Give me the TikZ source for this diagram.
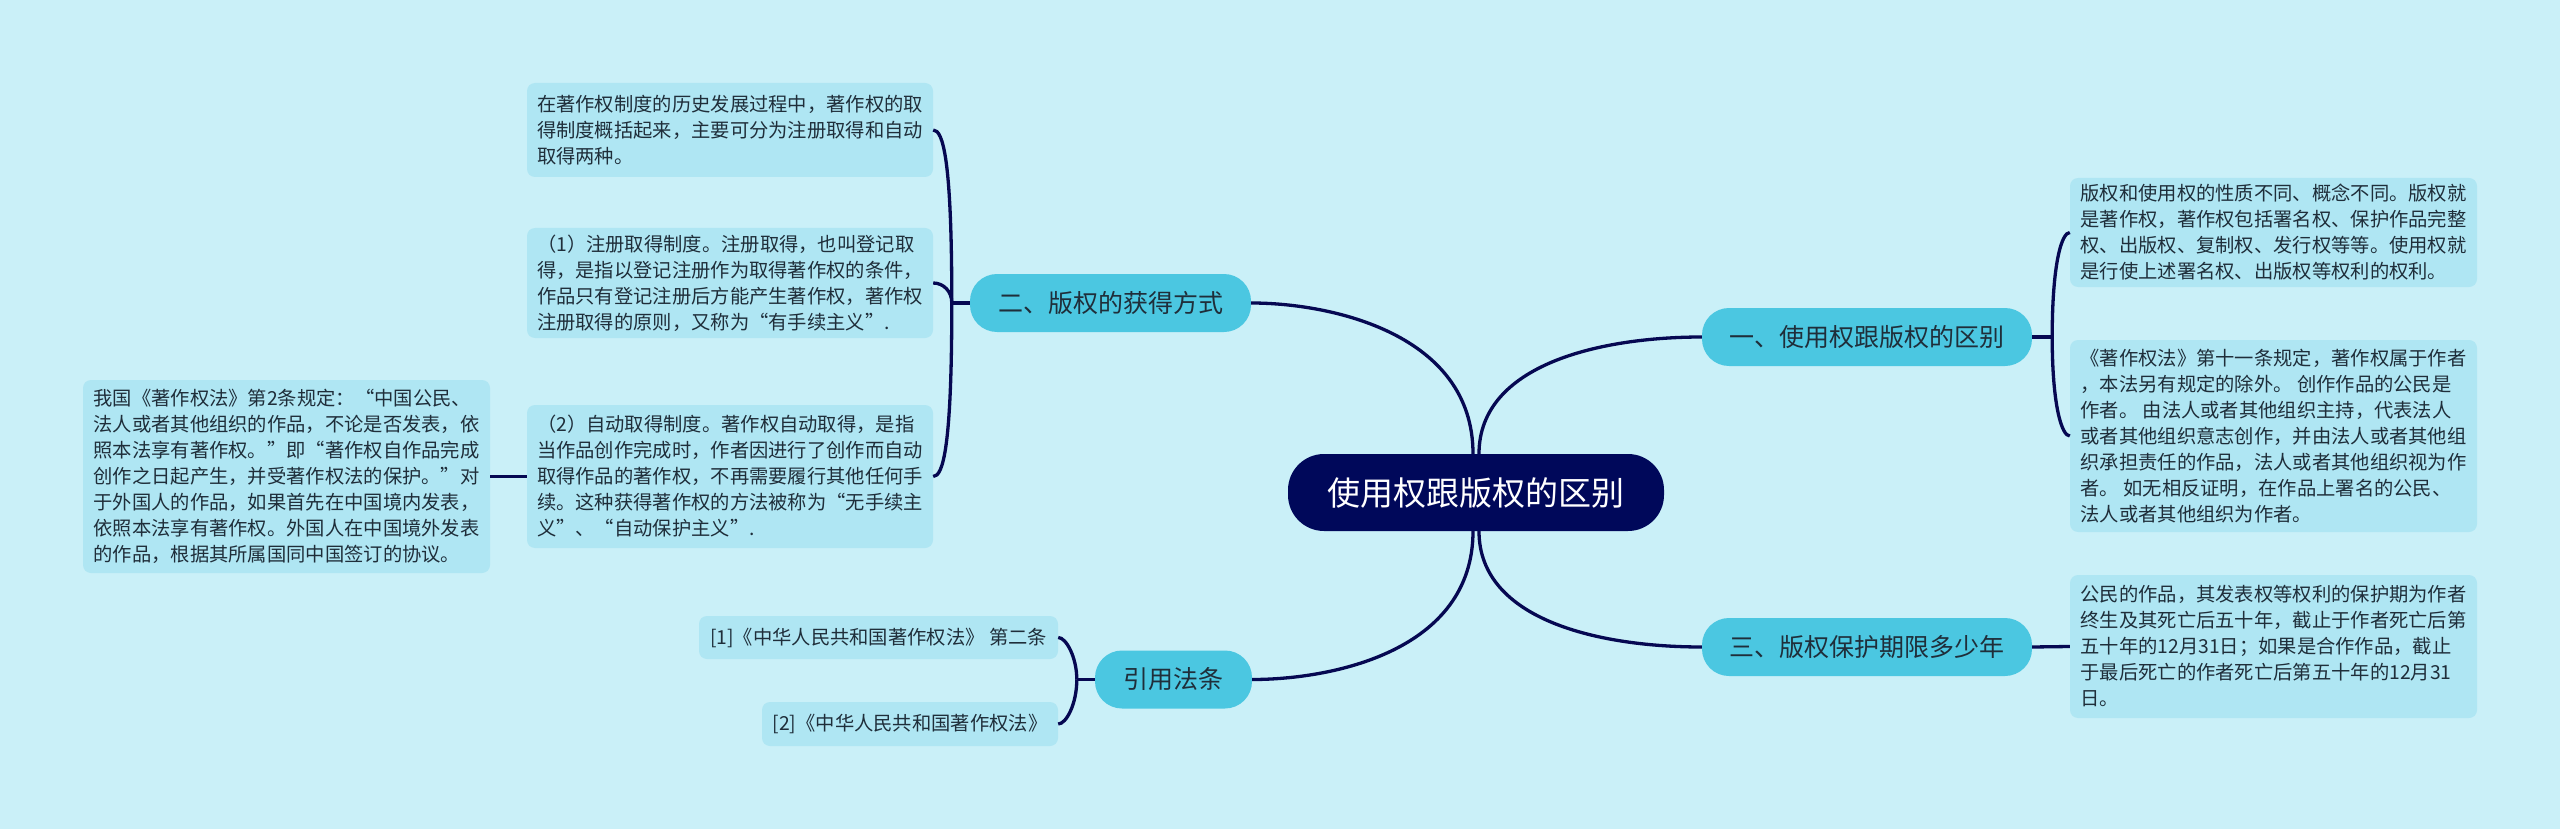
\documentclass[tikz,border=0pt]{standalone}
\usepackage{fontspec}
\setmainfont{Noto Sans CJK SC}
\usetikzlibrary{calc}
\definecolor{bg}{HTML}{CAF0F8}
\definecolor{leaffill}{HTML}{AFE6F3}
\definecolor{branchfill}{HTML}{4BC7E1}
\definecolor{centerfill}{HTML}{00085A}
\definecolor{linecol}{HTML}{060852}
\definecolor{txt}{HTML}{1F2E3A}
\begin{document}
\begin{tikzpicture}[x=1pt,y=-1pt,
 leafbox/.style={fill=leaffill, rounded corners=8pt, inner sep=0pt, align=left, text=txt, font=\fontsize{19.3}{26}\selectfont},
 branchbox/.style={fill=branchfill, rounded corners=27pt, inner sep=0pt, minimum height=58pt, text=txt, font=\fontsize{25}{30}\selectfont},
 centerbox/.style={fill=centerfill, rounded corners=36pt, inner sep=0pt, minimum width=376pt, minimum height=77pt, text=white, font=\fontsize{33}{40}\selectfont},
 conn/.style={draw=linecol, line width=3.3pt}]
\fill[bg] (0,0) rectangle (2560,829);
\useasboundingbox (0,0) rectangle (2560,829);

% centre
\node[centerbox] (c) at (1476,492.5) {使用权跟版权的区别};

% branches
\node[branchbox, minimum width=330pt] (b1) at (1867,337) {一、使用权跟版权的区别};
\node[branchbox, minimum width=281pt] (b2) at (1110.5,303) {二、版权的获得方式};
\node[branchbox, minimum width=330pt] (b3) at (1867,647) {三、版权保护期限多少年};
\node[branchbox, minimum width=157pt] (b4) at (1173.5,679.5) {引用法条};

% leaves of branch 2
\node[leafbox, minimum width=406pt, minimum height=94pt] (A) at (730,130) {在著作权制度的历史发展过程中，著作权的取\\得制度概括起来，主要可分为注册取得和自动\\取得两种。};
\node[leafbox, minimum width=406pt, minimum height=110pt] (B) at (730,283) {（1）注册取得制度。注册取得，也叫登记取\\得，是指以登记注册作为取得著作权的条件，\\作品只有登记注册后方能产生著作权，著作权\\注册取得的原则，又称为“有手续主义”.};
\node[leafbox, minimum width=406pt, minimum height=143pt] (C) at (730,476.5) {（2）自动取得制度。著作权自动取得，是指\\当作品创作完成时，作者因进行了创作而自动\\取得作品的著作权，不再需要履行其他任何手\\续。这种获得著作权的方法被称为“无手续主\\义”、“自动保护主义”.};
\node[leafbox, minimum width=407pt, minimum height=193pt] (D) at (286.5,476.5) {我国《著作权法》第2条规定：“中国公民、\\法人或者其他组织的作品，不论是否发表，依\\照本法享有著作权。”即“著作权自作品完成\\创作之日起产生，并受著作权法的保护。”对\\于外国人的作品，如果首先在中国境内发表，\\依照本法享有著作权。外国人在中国境外发表\\的作品，根据其所属国同中国签订的协议。};

% leaves of branch 1
\node[leafbox, minimum width=407pt, minimum height=109pt] (E) at (2273.5,232.5) {版权和使用权的性质不同、概念不同。版权就\\是著作权，著作权包括署名权、保护作品完整\\权、出版权、复制权、发行权等等。使用权就\\是行使上述署名权、出版权等权利的权利。};
\node[leafbox, minimum width=407pt, minimum height=192pt] (F) at (2273.5,436) {《著作权法》第十一条规定，著作权属于作者\\，本法另有规定的除外。 创作作品的公民是\\作者。 由法人或者其他组织主持，代表法人\\或者其他组织意志创作，并由法人或者其他组\\织承担责任的作品，法人或者其他组织视为作\\者。 如无相反证明，在作品上署名的公民、\\法人或者其他组织为作者。};

% leaf of branch 3
\node[leafbox, minimum width=407pt, minimum height=143pt] (G) at (2273.5,646.5) {公民的作品，其发表权等权利的保护期为作者\\终生及其死亡后五十年，截止于作者死亡后第\\五十年的12月31日；如果是合作作品，截止\\于最后死亡的作者死亡后第五十年的12月31\\日。};

% leaves of branch 4
\node[leafbox, minimum width=359pt, minimum height=43pt] (L1) at (878.5,637.5) {[1]《中华人民共和国著作权法》 第二条};
\node[leafbox, minimum width=296pt, minimum height=44pt] (L2) at (910,724) {[2]《中华人民共和国著作权法》};

% centre to branches
\draw[conn] ([xshift=-3pt]c.north) .. controls +(0,-120) and +(80,0) .. (b2.east);
\draw[conn] ([xshift=3pt]c.north) .. controls +(0,-90) and +(-100,0) .. (b1.west);
\draw[conn] ([xshift=-3pt]c.south) .. controls +(0,120) and +(80,0) .. (b4.east);
\draw[conn] ([xshift=3pt]c.south) .. controls +(0,90) and +(-100,0) .. (b3.west);

% branch 2 bracket
\coordinate (j2) at ($(b2.west)+(-18,0)$);
\draw[conn] (b2.west) -- (j2);
\draw[conn] (j2) .. controls ($(j2|-A.east)+(0,30)$) and ($(A.east)+(10,0)$) .. (A.east);
\draw[conn] (j2) .. controls ($(j2|-B.east)+(0,8)$) and ($(B.east)+(10,0)$) .. (B.east);
\draw[conn] (j2) .. controls ($(j2|-C.east)+(0,-30)$) and ($(C.east)+(10,0)$) .. (C.east);
\draw[conn] (C.west) -- (D.east);

% branch 1 bracket
\coordinate (j1) at ($(b1.east)+(20,0)$);
\draw[conn] (b1.east) -- (j1);
\draw[conn] (j1) .. controls ($(j1|-E.west)+(0,30)$) and ($(E.west)+(-8,0)$) .. (E.west);
\draw[conn] (j1) .. controls ($(j1|-F.west)+(0,-30)$) and ($(F.west)+(-8,0)$) .. (F.west);

% branch 3
\draw[conn] (b3.east) -- (G.west);

% branch 4 bracket
\coordinate (j4) at ($(b4.west)+(-18,0)$);
\draw[conn] (b4.west) -- (j4);
\draw[conn] (j4) .. controls ($(j4|-L1.east)+(0,20)$) and ($(L1.east)+(8,0)$) .. (L1.east);
\draw[conn] (j4) .. controls ($(j4|-L2.east)+(0,-20)$) and ($(L2.east)+(8,0)$) .. (L2.east);
\end{tikzpicture}
\end{document}
